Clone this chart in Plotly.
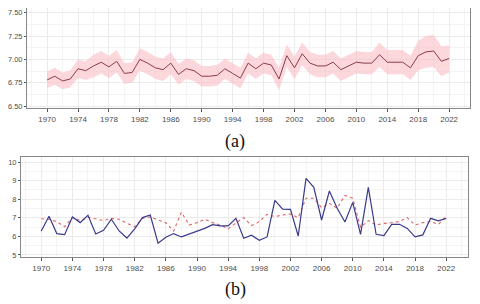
import plotly.graph_objects as go

years = list(range(1970, 2023))

mean_a = [6.78, 6.82, 6.77, 6.79, 6.90, 6.88, 6.93, 6.97, 6.92, 6.98, 6.85, 6.86, 7.00, 6.96, 6.91, 6.89,
          6.96, 6.84, 6.90, 6.88, 6.82, 6.82, 6.83, 6.90, 6.85, 6.80, 6.96, 6.90, 6.96, 6.94, 6.79, 7.04,
          6.91, 7.06, 6.96, 6.93, 6.93, 6.97, 6.89, 6.93, 6.97, 6.96, 6.96, 7.05, 6.97, 6.97, 6.97, 6.91,
          7.04, 7.08, 7.09, 6.98, 7.01]
upper_a = [6.87, 6.91, 6.86, 6.88, 7.00, 6.98, 7.05, 7.09, 7.04, 7.10, 6.96, 6.97, 7.12, 7.08, 7.03, 7.01,
           7.08, 6.95, 7.01, 6.99, 6.93, 6.93, 6.94, 7.01, 6.96, 6.91, 7.07, 7.01, 7.07, 7.05, 6.91, 7.16,
           7.03, 7.18, 7.08, 7.05, 7.05, 7.09, 7.01, 7.05, 7.09, 7.08, 7.08, 7.18, 7.10, 7.10, 7.10, 7.04,
           7.20, 7.25, 7.26, 7.14, 7.15]
lower_a = [6.69, 6.73, 6.68, 6.70, 6.80, 6.78, 6.81, 6.85, 6.80, 6.86, 6.74, 6.75, 6.88, 6.84, 6.79, 6.77,
           6.84, 6.73, 6.79, 6.77, 6.71, 6.71, 6.72, 6.79, 6.74, 6.69, 6.85, 6.79, 6.85, 6.83, 6.67, 6.92,
           6.79, 6.94, 6.84, 6.81, 6.81, 6.85, 6.77, 6.81, 6.85, 6.84, 6.84, 6.92, 6.84, 6.84, 6.84, 6.78,
           6.88, 6.91, 6.92, 6.82, 6.86]

blue_b = [6.29, 7.08, 6.15, 6.09, 7.04, 6.74, 7.13, 6.13, 6.33, 6.92, 6.29, 5.91, 6.40, 7.01, 7.15, 5.63,
          5.95, 6.15, 5.97, 6.12, 6.27, 6.43, 6.63, 6.56, 6.56, 6.97, 5.90, 6.06, 5.79, 5.97, 7.94, 7.47,
          7.45, 6.02, 9.12, 8.64, 6.88, 8.44, 7.51, 6.77, 7.83, 6.11, 8.64, 6.11, 6.04, 6.65, 6.65, 6.43,
          5.97, 6.08, 6.97, 6.83, 6.97]
red_b = [6.95, 6.92, 6.79, 6.52, 7.02, 6.85, 7.03, 6.94, 6.85, 6.97, 6.92, 6.70, 6.52, 6.97, 7.05, 6.88,
         6.74, 6.29, 7.30, 6.61, 6.74, 6.92, 6.74, 6.61, 6.40, 6.72, 7.01, 6.58, 6.79, 7.19, 7.06, 7.15,
         7.20, 7.01, 8.05, 8.05, 7.54, 7.78, 7.51, 8.20, 8.05, 6.49, 6.85, 6.61, 6.70, 6.74, 6.80, 7.01,
         6.61, 6.74, 6.80, 6.65, 7.06]

x_ticks = list(range(1970, 2023, 4))

# page body offset compensation
OFF = 8
W, H = 480 - OFF, 304 - OFF


def px(x):
    return min(1.0, max(0.0, (x - OFF) / W))


def py(y):
    return min(1.0, max(0.0, 1 - (y - OFF) / H))


fig = go.Figure()

fig.add_trace(go.Scatter(x=years, y=upper_a, mode="lines", line=dict(width=0),
                         showlegend=False, hoverinfo="skip", xaxis="x", yaxis="y"))
fig.add_trace(go.Scatter(x=years, y=lower_a, mode="lines", line=dict(width=0),
                         fill="tonexty", fillcolor="rgba(250,190,198,0.6)",
                         showlegend=False, hoverinfo="skip", xaxis="x", yaxis="y"))
fig.add_trace(go.Scatter(x=years, y=mean_a, mode="lines", line=dict(color="#8c3b4a", width=1),
                         showlegend=False, xaxis="x", yaxis="y"))

fig.add_trace(go.Scatter(x=years, y=red_b, mode="lines", line=dict(color="#e06666", width=1.1, dash="dot"),
                         showlegend=False, xaxis="x2", yaxis="y2"))
fig.add_trace(go.Scatter(x=years, y=blue_b, mode="lines", line=dict(color="#3a3a8c", width=1.2),
                         showlegend=False, xaxis="x2", yaxis="y2"))

tickfont = dict(family="Liberation Sans, Arial", size=8, color="#4d4d4d")
ytickfont = dict(family="Liberation Sans, Arial", size=7.5, color="#4d4d4d")
common_x = dict(tickvals=x_ticks, ticktext=[str(t) for t in x_ticks], showgrid=True,
                gridcolor="#ebebeb", gridwidth=0.8, zeroline=False, ticks="outside", ticklen=3,
                tickcolor="#555", showline=True, linecolor="#888", linewidth=1, mirror=True,
                tickfont=tickfont, automargin=False,
                minor=dict(dtick=2, tick0=1970, showgrid=True, gridcolor="#f4f4f4"))
common_y = dict(showgrid=True, gridcolor="#ebebeb", gridwidth=0.8, zeroline=False, ticks="outside",
                ticklen=2, tickcolor="#555", showline=True, linecolor="#888", linewidth=1, mirror=True,
                tickfont=ytickfont, automargin=False)

fig.update_layout(
    width=W, height=H,
    margin=dict(l=0, r=0, t=0, b=0),
    paper_bgcolor="white", plot_bgcolor="white",
    showlegend=False,
    xaxis=dict(common_x, domain=[px(27), px(470)], range=[1967.4, 2024.7], anchor="y"),
    yaxis=dict(common_y, domain=[py(108), py(8)], range=[6.48, 7.55],
               tickvals=[6.5, 6.75, 7.0, 7.25, 7.5], ticktext=["6.50", "6.75", "7.00", "7.25", "7.50"],
               minor=dict(dtick=0.125, tick0=6.5, showgrid=True, gridcolor="#f4f4f4"), anchor="x"),
    xaxis2=dict(common_x, domain=[px(21), px(468)], range=[1967.4, 2024.8], anchor="y2"),
    yaxis2=dict(common_y, domain=[py(257), py(157)], range=[4.89, 10.27],
                tickvals=[5, 6, 7, 8, 9, 10],
                minor=dict(dtick=0.5, tick0=5, showgrid=True, gridcolor="#f4f4f4"), anchor="x2"),
    annotations=[
        dict(text="(a)", x=px(235), y=py(142), xref="paper", yref="paper", showarrow=False,
             xanchor="center", yanchor="middle",
             font=dict(family="Liberation Serif, Times New Roman", size=18, color="#111")),
        dict(text="(b)", x=px(235), y=py(289), xref="paper", yref="paper", showarrow=False,
             xanchor="center", yanchor="middle",
             font=dict(family="Liberation Serif, Times New Roman", size=18, color="#111")),
    ],
)

fig.write_html("out.html")
